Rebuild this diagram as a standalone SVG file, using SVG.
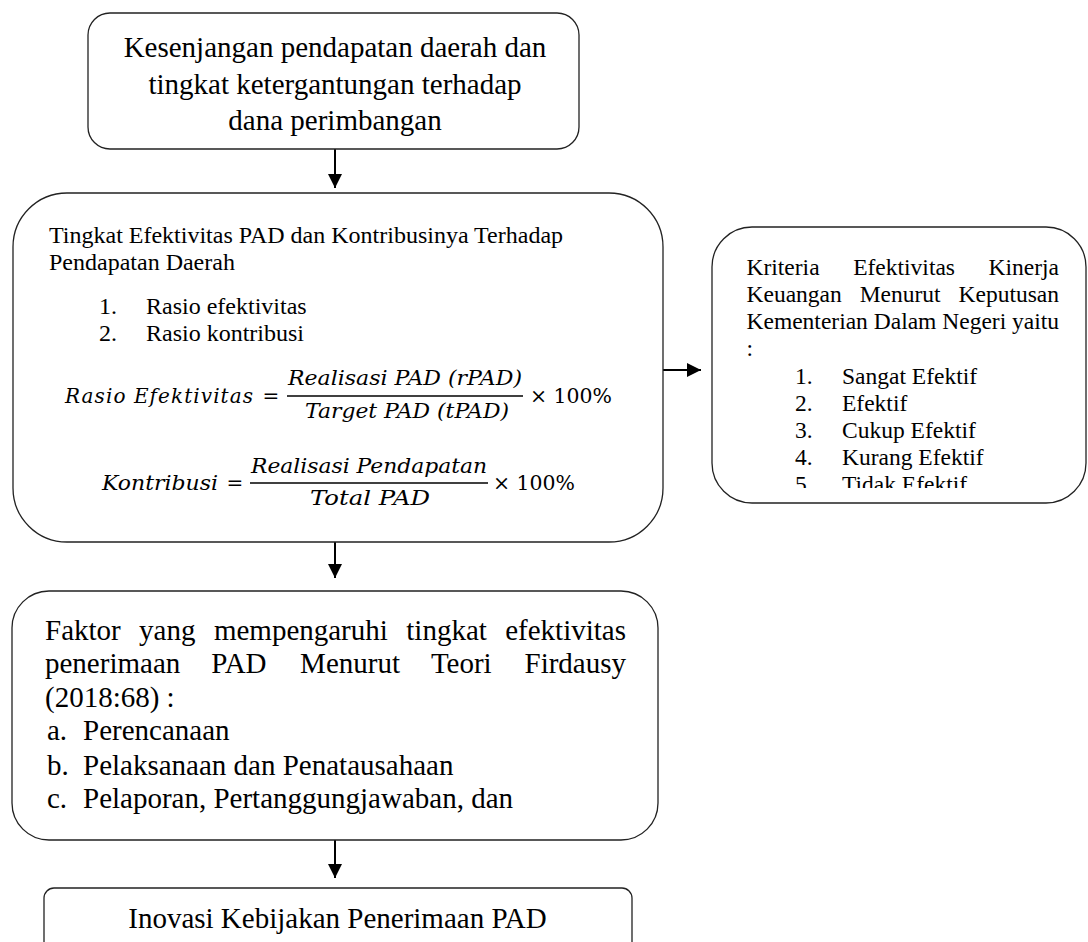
<svg xmlns="http://www.w3.org/2000/svg" width="1088" height="942" viewBox="0 0 1088 942">
<style>
.box{fill:#ffffff;stroke:#222222;stroke-width:1.3}
.t{font-family:"Liberation Serif","Times New Roman",serif;fill:#000000}
.big{font-size:29px}
.small{font-size:24px}
.rt{font-size:23.5px}
.m{font-family:"DejaVu Serif",serif;font-style:italic;font-size:20px;fill:#000000}
.mu{font-family:"DejaVu Serif",serif;font-size:20px;fill:#000000}
.conn{stroke:#000000;stroke-width:2;fill:none}
.bar{stroke:#000000;stroke-width:1.7}
</style>
<defs>
<marker id="ah" markerUnits="userSpaceOnUse" markerWidth="16" markerHeight="16" refX="14" refY="7" orient="auto">
<path d="M0,0 L14,7 L0,14 z" fill="#000000"/>
</marker>
<clipPath id="rclip"><rect x="712" y="227" width="376" height="261"/></clipPath>
</defs>
<rect width="1088" height="942" fill="#ffffff"/>

<g id="connectors">
<line class="conn" x1="335" y1="149" x2="335" y2="188" marker-end="url(#ah)"/>
<line class="conn" x1="335" y1="542" x2="335" y2="578" marker-end="url(#ah)"/>
<line class="conn" x1="335" y1="840" x2="335" y2="878" marker-end="url(#ah)"/>
<line class="conn" x1="663" y1="370" x2="701" y2="370" marker-end="url(#ah)"/>
</g>

<g id="node-kesenjangan">
<rect class="box" x="88" y="13" width="491" height="136" rx="22" ry="22"/>
<text class="t big" x="335" y="57" text-anchor="middle">Kesenjangan pendapatan daerah dan</text>
<text class="t big" x="335" y="94" text-anchor="middle">tingkat ketergantungan terhadap</text>
<text class="t big" x="335" y="130" text-anchor="middle">dana perimbangan</text>
</g>

<g id="node-efektivitas">
<rect class="box" x="13" y="193" width="650" height="349" rx="54" ry="54"/>
<text class="t small" x="49" y="243">Tingkat Efektivitas PAD dan Kontribusinya Terhadap</text>
<text class="t small" x="49" y="270">Pendapatan Daerah</text>
<text class="t small" x="99" y="314">1.</text>
<text class="t small" x="146" y="314">Rasio efektivitas</text>
<text class="t small" x="99" y="341">2.</text>
<text class="t small" x="146" y="341">Rasio kontribusi</text>
<text class="m" x="65" y="403" textLength="188" lengthAdjust="spacing">Rasio Efektivitas</text>
<text class="mu" x="271" y="403" text-anchor="middle">=</text>
<text class="m" x="405" y="385" text-anchor="middle" textLength="234" lengthAdjust="spacingAndGlyphs">Realisasi PAD (rPAD)</text>
<line class="bar" x1="287" y1="396" x2="523" y2="396"/>
<text class="m" x="407" y="418" text-anchor="middle" textLength="204" lengthAdjust="spacingAndGlyphs">Target PAD (tPAD)</text>
<text class="mu" x="530" y="403" textLength="82" lengthAdjust="spacingAndGlyphs">× 100%</text>
<text class="m" x="102" y="490" textLength="116" lengthAdjust="spacingAndGlyphs">Kontribusi</text>
<text class="mu" x="235" y="490" text-anchor="middle">=</text>
<text class="m" x="369" y="473" text-anchor="middle" textLength="236" lengthAdjust="spacingAndGlyphs">Realisasi Pendapatan</text>
<line class="bar" x1="250" y1="483" x2="488" y2="483"/>
<text class="m" x="370" y="505" text-anchor="middle" textLength="120" lengthAdjust="spacingAndGlyphs">Total PAD</text>
<text class="mu" x="493" y="490" textLength="82" lengthAdjust="spacingAndGlyphs">× 100%</text>
</g>

<g id="node-kriteria">
<rect class="box" x="712" y="227" width="374" height="276" rx="40" ry="40"/>
<g clip-path="url(#rclip)">
<text class="t rt" x="746.5" y="275">Kriteria</text>
<text class="t rt" x="853.2" y="275">Efektivitas</text>
<text class="t rt" x="1059" y="275" text-anchor="end">Kinerja</text>
<text class="t rt" x="746.5" y="302">Keuangan</text>
<text class="t rt" x="859.7" y="302">Menurut</text>
<text class="t rt" x="1059" y="302" text-anchor="end">Keputusan</text>
<text class="t rt" x="746.5" y="329">Kementerian Dalam Negeri yaitu</text>
<text class="t rt" x="746.5" y="356">:</text>
<text class="t rt" x="795" y="384">1.</text>
<text class="t rt" x="842" y="384">Sangat Efektif</text>
<text class="t rt" x="795" y="411">2.</text>
<text class="t rt" x="842" y="411">Efektif</text>
<text class="t rt" x="795" y="438">3.</text>
<text class="t rt" x="842" y="438">Cukup Efektif</text>
<text class="t rt" x="795" y="465">4.</text>
<text class="t rt" x="842" y="465">Kurang Efektif</text>
<text class="t rt" x="795" y="492">5.</text>
<text class="t rt" x="842" y="492">Tidak Efektif</text>
</g>
</g>

<g id="node-faktor">
<rect class="box" x="12" y="591" width="646" height="249" rx="37" ry="37"/>
<text class="t big" x="45" y="640">Faktor</text>
<text class="t big" x="139.1" y="640">yang</text>
<text class="t big" x="213.9" y="640">mempengaruhi</text>
<text class="t big" x="406.3" y="640">tingkat</text>
<text class="t big" x="626" y="640" text-anchor="end">efektivitas</text>
<text class="t big" x="45" y="673">penerimaan</text>
<text class="t big" x="211.2" y="673">PAD</text>
<text class="t big" x="300.1" y="673">Menurut</text>
<text class="t big" x="430.9" y="673">Teori</text>
<text class="t big" x="626" y="673" text-anchor="end">Firdausy</text>
<text class="t big" x="45" y="707">(2018:68) :</text>
<text class="t big" x="47" y="740">a.</text>
<text class="t big" x="83" y="740">Perencanaan</text>
<text class="t big" x="47" y="775">b.</text>
<text class="t big" x="83" y="775">Pelaksanaan dan Penatausahaan</text>
<text class="t big" x="47" y="808">c.</text>
<text class="t big" x="83" y="808">Pelaporan, Pertanggungjawaban, dan</text>
</g>

<g id="node-inovasi">
<rect class="box" x="44" y="888" width="588" height="80" rx="10" ry="10"/>
<text class="t big" x="337.5" y="928" text-anchor="middle">Inovasi Kebijakan Penerimaan PAD</text>
</g>
</svg>
